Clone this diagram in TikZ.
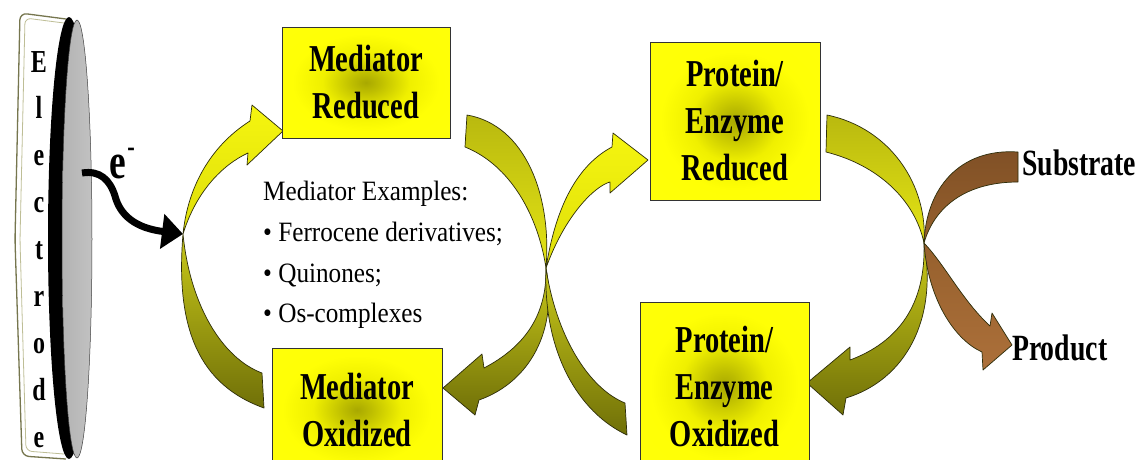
\documentclass[tikz,border=0pt]{standalone}
\usepackage{fontspec}
\setmainfont{Liberation Serif}
\newfontfamily\bcond[FakeStretch=0.75]{Liberation Serif}
\newfontfamily\rcond[FakeStretch=0.9]{Liberation Serif}
\usetikzlibrary{arrows.meta}
\definecolor{yelTop}{RGB}{245,245,15}
\definecolor{yelBot}{RGB}{222,222,10}
\definecolor{olvTop}{RGB}{200,200,25}
\definecolor{olvBot}{RGB}{112,112,8}
\definecolor{dimTop}{RGB}{185,185,15}
\definecolor{dimBot}{RGB}{228,228,20}
\definecolor{brnTop}{RGB}{128,80,38}
\definecolor{brnMid}{RGB}{150,96,45}
\definecolor{brnBot}{RGB}{172,112,58}
\definecolor{bandline}{RGB}{45,45,10}
\definecolor{plateline}{RGB}{118,118,78}
\definecolor{plateinner}{RGB}{190,190,150}
\pgfdeclareradialshading{boxglow}{\pgfpoint{0bp}{0bp}}{rgb(0bp)=(0.66,0.66,0); rgb(4bp)=(0.74,0.74,0); rgb(13bp)=(0.94,0.94,0); rgb(22bp)=(1,1,0.02); rgb(50bp)=(1,1,0.05)}
\begin{document}
\begin{tikzpicture}[x=1pt,y=-1pt,
  band/.style={draw=bandline,line width=0.7pt,line join=round},
  boxnode/.style={draw=black!80,line width=0.8pt,shade,shading=boxglow,align=center,inner sep=0pt,
    font=\bcond\bfseries\fontsize{38}{47}\selectfont},
  letter/.style={anchor=base,inner sep=0pt,font=\bcond\bfseries\fontsize{32}{32}\selectfont},
  label/.style={anchor=base west,inner sep=0pt,font=\bcond\bfseries\fontsize{37}{40}\selectfont}]
\useasboundingbox (0,0) rectangle (1144,459);
\clip (0,0) rectangle (1144,459);
\fill[white] (0,0) rectangle (1144,459);

% ---------- electrode ----------
\path[draw=plateline,fill=white,line width=1.3pt,rounded corners=7pt]
  (66,19) -- (20,13) -- (15,240) -- (22,456) -- (66,459);
\draw[plateinner,line width=0.8pt,rounded corners=6pt]
  (64,23) -- (25,18) -- (20,240) -- (26,451) -- (64,454);
\fill[black] (69,238) ellipse [x radius=21, y radius=221];
\shade[left color=black!30,right color=black!24,draw=black!75,line width=0.5pt]
  (77,239) ellipse [x radius=15, y radius=219];
\foreach \ch [count=\i from 0] in {E,l,e,c,t,r,o,d,e}
  \node[letter] (el\i) at (39,{72+46.9*\i}) {\ch};

% ---------- pinch points ----------
\coordinate (pL) at (183,234);
\coordinate (pM) at (546,268);
\coordinate (pR) at (924,243);

% ---------- mediator cycle ----------
\path[band,top color=yelTop,bottom color=yelBot]
  (pL) .. controls (188,185) and (212,145) .. (250,121) -- (252,105) -- (283,131)
  -- (247,165) -- (248,153) .. controls (222,165) and (196,192) .. (pL) -- cycle;
\path[band,top color=olvTop,bottom color=olvBot]
  (pL) .. controls (175,330) and (200,385) .. (264,408) -- (262,373)
  .. controls (222,358) and (190,305) .. (pL) -- cycle;
\path[band,top color=dimTop,bottom color=dimBot]
  (467,115) .. controls (525,125) and (552,195) .. (pM)
  .. controls (538,215) and (510,165) .. (465,147) -- cycle;
\path[band,top color=olvTop,bottom color=olvBot]
  (pM) .. controls (547,318) and (522,348) .. (484,368) -- (482,354) -- (443,388)
  -- (475,415) -- (479,400) .. controls (530,382) and (558,330) .. (pM) -- cycle;

% ---------- protein cycle ----------
\path[band,top color=olvTop,bottom color=olvBot]
  (pM) .. controls (543,352) and (578,412) .. (627,435) -- (625,403)
  .. controls (588,388) and (556,335) .. (pM) -- cycle;
\path[band,top color=yelTop,bottom color=yelBot]
  (pM) .. controls (556,205) and (578,165) .. (612,147) -- (613,133) -- (648,160)
  -- (610,193) -- (610,182) .. controls (595,186) and (565,215) .. (pM) -- cycle;
\path[band,top color=dimTop,bottom color=dimBot]
  (827,115) .. controls (890,128) and (928,185) .. (pR)
  .. controls (915,200) and (878,165) .. (826,152) -- cycle;
\path[band,top color=olvTop,bottom color=olvBot]
  (pR) .. controls (926,305) and (898,342) .. (850,360) -- (850,347) -- (807,383)
  -- (843,415) -- (846,398) .. controls (905,380) and (938,320) .. (pR) -- cycle;

% ---------- substrate / product ----------
\path[band,top color=brnTop,bottom color=brnMid]
  (1018,152) .. controls (960,148) and (926,188) .. (pR)
  .. controls (935,205) and (968,182) .. (1018,182) -- cycle;
\path[band,top color=brnMid,bottom color=brnBot]
  (pR) .. controls (945,265) and (962,300) .. (990,326) -- (992,313) -- (1012,345)
  -- (983,370) -- (982,352) .. controls (955,340) and (928,300) .. (pR) -- cycle;

% ---------- electron transfer ----------
\coordinate (estart) at (82,173);
\draw[line width=7pt,-{Triangle[length=21pt,width=34pt]}]
  (estart) .. controls (100,170) and (110,180) .. (115,196)
  .. controls (120,215) and (135,228) .. (pL);
\node[anchor=base west,inner sep=0pt,font=\bcond\bfseries\fontsize{50}{50}\selectfont] (eminus)
  at (109,178) {e\kern1.5pt\raisebox{22pt}{\fontsize{30}{30}\selectfont -}};

% ---------- boxes ----------
\node[boxnode,minimum width=168pt,minimum height=111pt] (mr) at (366,82.5) {Mediator\\Reduced};
\node[boxnode,minimum width=170pt,minimum height=124pt] (mo) at (357,410) {Mediator\\Oxidized};
\node[boxnode,minimum width=170pt,minimum height=158pt] (pr) at (735,121) {Protein/\\Enzyme\\Reduced};
\node[boxnode,minimum width=169pt,minimum height=168pt] (po) at (724.5,386) {Protein/\\Enzyme\\Oxidized};

% ---------- texts ----------
\node[anchor=north west,inner sep=0pt,align=left,font=\rcond\fontsize{28}{40.7}\selectfont] (ex)
  at (263,181) {Mediator Examples:\\• Ferrocene derivatives;\\• Quinones;\\• Os-complexes};
\node[label] (sub) at (1022,175) {Substrate};
\node[label] (prod) at (1012,360) {Product};
\end{tikzpicture}
\end{document}
